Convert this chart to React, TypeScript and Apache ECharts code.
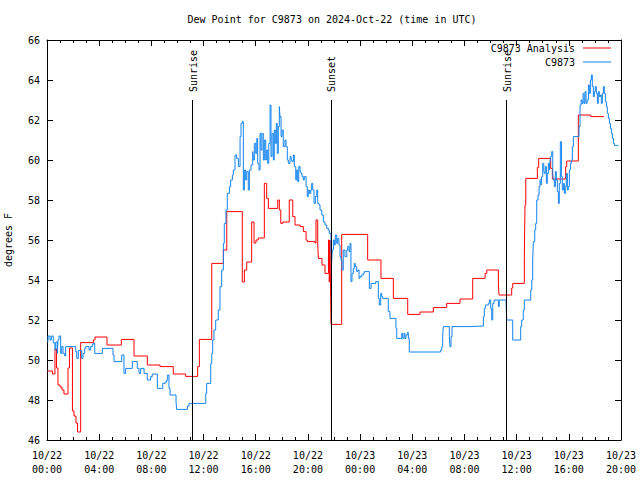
import React, { useEffect, useRef } from "react";
import * as echarts from "echarts";

const FONT = "'DejaVu Sans Mono', 'Liberation Mono', monospace";

const titleText = "Dew Point for C9873 on 2024-Oct-22 (time in UTC)";
const analysisName = "C9873 Analysis";
const obsName = "C9873";

// x axis: hours since 2024-10-22 00:00 UTC
const xTickLabels = [
  "10/22\n00:00", "10/22\n04:00", "10/22\n08:00", "10/22\n12:00",
  "10/22\n16:00", "10/22\n20:00", "10/23\n00:00", "10/23\n04:00",
  "10/23\n08:00", "10/23\n12:00", "10/23\n16:00", "10/23\n20:00",
];

const sunHours = [11.12, 21.77, 35.19];
const sunLabels = ["Sunrise", "Sunset", "Sunrise"];

// Analysis (red) — hour, value
const anaHours = [
  0, 0.42, 0.61, 0.73, 0.84, 1.0, 1.15, 1.3, 1.61, 1.72, 1.95, 2.07, 2.22, 2.34,
  2.58, 3.56, 3.68, 4.6, 5.7, 6.67, 7.69, 8.66, 9.68, 10.63, 11.55, 11.68, 12.63,
  13.52, 13.78, 14.97, 15.13, 15.31, 15.69, 15.87, 16.02, 16.2, 16.66, 16.84,
  16.97, 17.69, 17.81, 17.92, 18.07, 18.57, 18.84, 19.01, 19.4, 19.65, 19.86,
  19.95, 20.54, 20.62, 20.75, 20.8, 21.08, 21.31, 21.58, 21.64, 21.69, 21.73,
  21.77, 22.59, 24.58, 25.6, 26.55, 27.65, 28.59, 29.61, 30.64, 31.66, 32.63,
  33.58, 33.71, 34.6, 34.65, 35.62, 35.7, 36.59, 36.64, 36.7, 37.59, 37.69,
  38.61, 38.74, 39.76, 39.84, 40.73, 41.68, 42.7,
];
const anaValues = [
  49.45, 49.3, 50.55, 49.6, 48.75, 48.65, 48.5, 48.3, 49.6, 50.6, 47.45, 47.2,
  46.85, 46.4, 50.87, 51.0, 51.15, 50.75, 51.03, 50.2, 49.75, 49.67, 49.3, 49.18,
  49.67, 51.03, 54.83, 55.5, 57.42, 53.9, 54.5, 54.9, 56.9, 55.85, 56.0, 56.1,
  58.83, 58.08, 57.58, 58.0, 57.5, 56.83, 56.9, 58.0, 57.17, 56.75, 56.67, 56.42,
  56.0, 55.92, 55.85, 57.0, 55.85, 55.08, 54.75, 54.33, 56.0, 53.9, 56.0, 53.9,
  51.78, 56.28, 55.0, 54.08, 53.08, 52.28, 52.4, 52.62, 52.83, 53.05, 54.08,
  54.33, 54.5, 53.83, 53.25, 53.6, 53.83, 55.17, 57.75, 59.08, 59.63, 60.08,
  59.58, 59.05, 59.67, 59.95, 62.25, 62.17, 62.17,
];

// Observations (blue) — hour, value
const obsHours = [
  0, 0.08, 0.23, 0.33, 0.48, 0.61, 0.67, 0.79, 0.84, 0.92, 1.05, 1.13, 1.23, 1.36,
  1.43, 2.2, 2.28, 2.4, 2.66, 2.76, 2.89, 2.97, 3.22, 3.35, 3.47, 3.6, 3.66, 4.24,
  5.06, 5.14, 5.73, 5.9, 6.03, 6.54, 6.92, 7.05, 7.18, 7.44, 7.69, 7.95, 8.07,
  8.46, 8.87, 9.05, 9.18, 9.25, 9.35, 9.43, 9.89, 9.94, 10.76, 10.89, 12.17,
  12.24, 12.55, 12.63, 12.7, 12.8, 12.93, 13.13, 13.26, 13.39, 13.52, 13.59,
  13.72, 13.82, 13.98, 14.08, 14.21, 14.28, 14.41, 14.54, 14.67, 14.8, 14.87,
  14.97, 15.05, 15.13, 15.23, 15.31, 15.43, 15.51, 15.64, 15.77, 15.82, 15.89,
  16.0, 16.08, 16.15, 16.25, 16.33, 16.4, 16.48, 16.58, 16.66, 16.77, 16.84,
  16.92, 17.0, 17.1, 17.17, 17.25, 17.35, 17.42, 17.5, 17.58, 17.65, 17.73,
  17.81, 17.86, 17.94, 18.02, 18.11, 18.24, 18.32, 18.42, 18.5, 18.63, 18.71,
  18.78, 18.88, 18.96, 19.07, 19.14, 19.22, 19.3, 19.4, 19.47, 19.55, 19.65,
  19.72, 19.86, 19.95, 20.03, 20.11, 20.22, 20.29, 20.37, 20.47, 20.57, 20.68,
  20.75, 20.85, 20.93, 21.06, 21.18, 21.31, 21.44, 21.57, 21.64, 21.77, 21.82,
  21.87, 21.95, 22.02, 22.1, 22.21, 22.28, 22.38, 22.46, 22.54, 22.61, 22.71,
  22.84, 22.98, 23.05, 23.15, 23.23, 23.3, 23.38, 23.48, 23.56, 23.63, 23.74,
  23.82, 23.92, 23.99, 24.12, 24.25, 24.32, 24.71, 24.84, 25.2, 25.4, 25.47,
  25.58, 25.66, 25.73, 26.16, 26.29, 26.75, 26.81, 27.19, 27.27, 27.37, 27.44,
  27.52, 27.62, 27.7, 27.77, 30.18, 30.26, 30.33, 30.38, 30.84, 30.89, 30.97,
  31.05, 32.43, 33.45, 33.52, 33.6, 33.83, 33.91, 34.01, 34.09, 34.17, 34.27,
  34.6, 34.67, 35.19, 35.24, 35.7, 36.31, 36.39, 36.51, 36.59, 37.08, 37.16,
  37.23, 37.28, 37.39, 37.46, 37.54, 37.64, 37.72, 37.79, 37.87, 37.92, 38.0,
  38.08, 38.12, 38.2, 38.28, 38.35, 38.43, 38.51, 38.56, 38.61, 38.69, 38.77,
  38.81, 38.89, 38.97, 39.04, 39.12, 39.2, 39.27, 39.35, 39.43, 39.5, 39.58,
  39.66, 39.73, 39.81, 39.89, 39.96, 40.04, 40.12, 40.19, 40.27, 40.35, 40.78,
  40.86, 40.94, 41.01, 41.09, 41.17, 41.24, 41.32, 41.4, 41.5, 41.57, 41.65,
  41.73, 41.8, 41.88, 41.96, 42.03, 42.11, 42.19, 42.26, 42.34, 42.42, 42.49,
  42.57, 42.65, 42.72, 42.8, 42.88, 42.95, 43.03, 43.11, 43.19, 43.26, 43.34,
  43.42, 43.49, 43.8,
];
const obsValues = [
  50.92, 51.2, 51.0, 51.2, 50.85, 50.5, 50.9, 50.33, 51.0, 51.2, 50.33, 50.67,
  50.33, 50.2, 50.67, 50.42, 50.08, 50.47, 50.08, 50.33, 50.58, 50.67, 50.5,
  50.67, 50.8, 50.85, 50.33, 50.58, 50.25, 49.92, 50.25, 49.33, 49.58, 49.92,
  49.58, 49.33, 49.58, 49.33, 49.0, 49.17, 49.3, 48.58, 48.83, 48.9, 49.0, 49.25,
  48.58, 48.25, 47.92, 47.53, 47.7, 47.83, 48.33, 48.83, 49.83, 50.33, 51.0,
  51.5, 52.0, 52.5, 53.67, 54.5, 55.83, 56.83, 57.5, 58.33, 58.67, 59.0, 59.25,
  59.5, 60.25, 60.08, 59.67, 61.17, 61.83, 61.92, 58.5, 59.5, 59.0, 59.42, 58.5,
  59.5, 59.75, 60.42, 60.0, 60.83, 60.33, 61.08, 59.83, 59.5, 61.33, 60.5, 61.33,
  60.0, 61.0, 60.0, 60.5, 59.83, 60.83, 62.75, 60.17, 61.33, 60.0, 61.5, 60.83,
  61.83, 60.33, 61.67, 62.67, 62.17, 61.17, 61.5, 60.67, 61.0, 60.67, 60.0, 59.83,
  60.17, 60.0, 59.92, 60.25, 59.67, 59.0, 59.5, 58.92, 59.67, 59.42, 59.33, 59.17,
  59.0, 59.17, 58.67, 58.17, 58.5, 58.33, 58.5, 58.83, 58.5, 57.83, 58.17, 58.5,
  57.83, 57.75, 57.5, 57.25, 56.9, 56.75, 56.58, 56.5, 56.33, 55.5, 54.92, 55.5,
  56.0, 55.75, 56.25, 55.83, 56.08, 55.75, 55.17, 55.0, 54.5, 55.5, 55.17, 55.5,
  55.67, 55.42, 55.83, 53.92, 54.33, 54.58, 54.83, 54.67, 54.42, 54.5, 54.08,
  54.17, 54.25, 54.33, 54.42, 53.58, 53.83, 53.92, 53.08, 52.75, 53.33, 53.17,
  53.08, 52.42, 52.08, 51.58, 51.08, 51.33, 51.08, 51.33, 51.08, 51.25, 51.37,
  51.08, 50.4, 50.5, 50.67, 51.17, 51.67, 51.17, 50.67, 51.17, 51.67, 51.7,
  52.17, 52.58, 52.75, 52.83, 53.0, 52.58, 52.0, 52.83, 53.0, 52.67, 53.0, 52.83,
  52.0, 51.0, 51.67, 52.0, 52.5, 53.0, 53.5, 54.0, 55.0, 55.92, 56.5, 56.83, 58.0,
  58.25, 58.67, 59.0, 58.75, 59.17, 59.83, 59.5, 59.33, 59.67, 58.83, 59.33,
  59.83, 59.5, 60.0, 60.17, 60.42, 59.33, 59.0, 58.67, 59.42, 59.0, 58.42, 57.83,
  58.83, 60.92, 59.17, 58.5, 58.83, 58.33, 58.67, 59.33, 58.5, 58.67, 59.5, 59.83,
  60.0, 60.67, 61.17, 61.67, 62.75, 63.0, 62.83, 63.33, 62.83, 63.42, 62.83, 63.0,
  63.75, 63.33, 64.0, 64.25, 63.67, 63.17, 63.42, 63.67, 63.33, 62.83, 63.42,
  63.17, 63.25, 62.83, 63.33, 63.67, 63.33, 62.92, 62.67, 62.33, 62.08, 61.83,
  61.58, 61.33, 61.08, 60.83, 60.73, 60.73,
];

const RED = "#ff0000";
const BLUE = "#1484f0";

export default function App() {
  const ref = useRef<HTMLDivElement>(null);

  useEffect(() => {
    if (!ref.current) return;
    const chart = echarts.init(ref.current, undefined, { renderer: "svg" });

    const axisCommon = {
      type: "value" as const,
      axisLine: { show: true, onZero: false, lineStyle: { color: "#000", width: 1 } },
      splitLine: { show: false },
    };

    const option: any = {
      animation: false,
      backgroundColor: "#fff",
      textStyle: { fontFamily: FONT },
      title: {
        text: titleText,
        left: 332,
        top: 14,
        padding: 0,
        textAlign: "center",
        textStyle: { fontFamily: FONT, fontSize: 10, fontWeight: "normal", color: "#000" },
      },
      grid: {
        left: 47,
        right: 19,
        top: 40,
        bottom: 40,
        containLabel: false,
        outerBoundsMode: "none",
      },
      xAxis: [
        {
          ...axisCommon,
          min: 0,
          max: 44,
          interval: 4,
          position: "bottom",
          axisTick: { show: true, inside: true, length: 6, lineStyle: { color: "#000" } },
          minorTick: { show: true, splitNumber: 4, length: 3, lineStyle: { color: "#000" } },
          axisLabel: {
            color: "#000",
            fontFamily: FONT,
            fontSize: 10,
            lineHeight: 14,
            margin: 8,
            formatter: (v: number) => xTickLabels[Math.round(v / 4)] ?? "",
          },
        },
        {
          ...axisCommon,
          min: 0,
          max: 44,
          interval: 4,
          position: "top",
          axisTick: { show: true, inside: true, length: 6, lineStyle: { color: "#000" } },
          minorTick: { show: true, splitNumber: 4, length: 3, lineStyle: { color: "#000" } },
          axisLabel: { show: false },
        },
      ],
      yAxis: [
        {
          ...axisCommon,
          min: 46,
          max: 66,
          interval: 2,
          position: "left",
          name: "degrees F",
          nameLocation: "middle",
          nameRotate: 90,
          nameGap: 34,
          nameTextStyle: { color: "#000", fontFamily: FONT, fontSize: 10 },
          axisTick: { show: true, inside: true, length: 6, lineStyle: { color: "#000" } },
          axisLabel: { color: "#000", fontFamily: FONT, fontSize: 10, margin: 7 },
        },
        {
          ...axisCommon,
          min: 46,
          max: 66,
          interval: 2,
          position: "right",
          axisTick: { show: true, inside: true, length: 6, lineStyle: { color: "#000" } },
          axisLabel: { show: false },
        },
      ],
      series: [
        {
          name: analysisName,
          type: "line",
          step: "end",
          xAxisIndex: 0,
          yAxisIndex: 0,
          showSymbol: false,
          symbol: "none",
          lineStyle: { color: RED, width: 1 },
          itemStyle: { color: RED },
          data: anaHours.map((h, i) => [h, anaValues[i]]),
          z: 2,
          markLine: {
            silent: true,
            symbol: ["none", "none"],
            label: { show: false },
            lineStyle: { color: "#000", width: 1, type: "solid" },
            data: sunHours.map((h) => [{ coord: [h, 46] }, { coord: [h, 63] }]),
          },
        },
        {
          name: obsName,
          type: "line",
          step: "end",
          xAxisIndex: 0,
          yAxisIndex: 0,
          showSymbol: false,
          symbol: "none",
          lineStyle: { color: BLUE, width: 1 },
          itemStyle: { color: BLUE },
          data: obsHours.map((h, i) => [h, obsValues[i]]),
          z: 3,
        },
      ],
    };

    chart.setOption(option);

    const graphics: any[] = [];
    sunHours.forEach((h, i) => {
      const p = chart.convertToPixel({ xAxisIndex: 0, yAxisIndex: 0 }, [h, 63]) as number[];
      graphics.push({
        type: "text",
        x: p[0] + 1,
        y: p[1] - 8,
        rotation: Math.PI / 2,
        style: {
          text: sunLabels[i],
          fill: "#000",
          font: `10px ${FONT}`,
          align: "left",
          verticalAlign: "middle",
        },
      });
    });
    const legendItems = [
      { text: analysisName, color: RED, y: 48 },
      { text: obsName, color: BLUE, y: 62 },
    ];
    legendItems.forEach((it) => {
      graphics.push({
        type: "text",
        x: 575,
        y: it.y,
        style: {
          text: it.text,
          fill: "#000",
          font: `10px ${FONT}`,
          align: "right",
          verticalAlign: "middle",
        },
      });
      graphics.push({
        type: "line",
        shape: { x1: 583, y1: it.y, x2: 611, y2: it.y },
        style: { stroke: it.color, lineWidth: 1 },
      });
    });
    chart.setOption({ graphic: graphics });

    return () => chart.dispose();
  }, []);

  return (
    <div
      ref={ref}
      style={{ position: "fixed", left: 0, top: 0, width: 640, height: 480, background: "#fff" }}
    />
  );
}
